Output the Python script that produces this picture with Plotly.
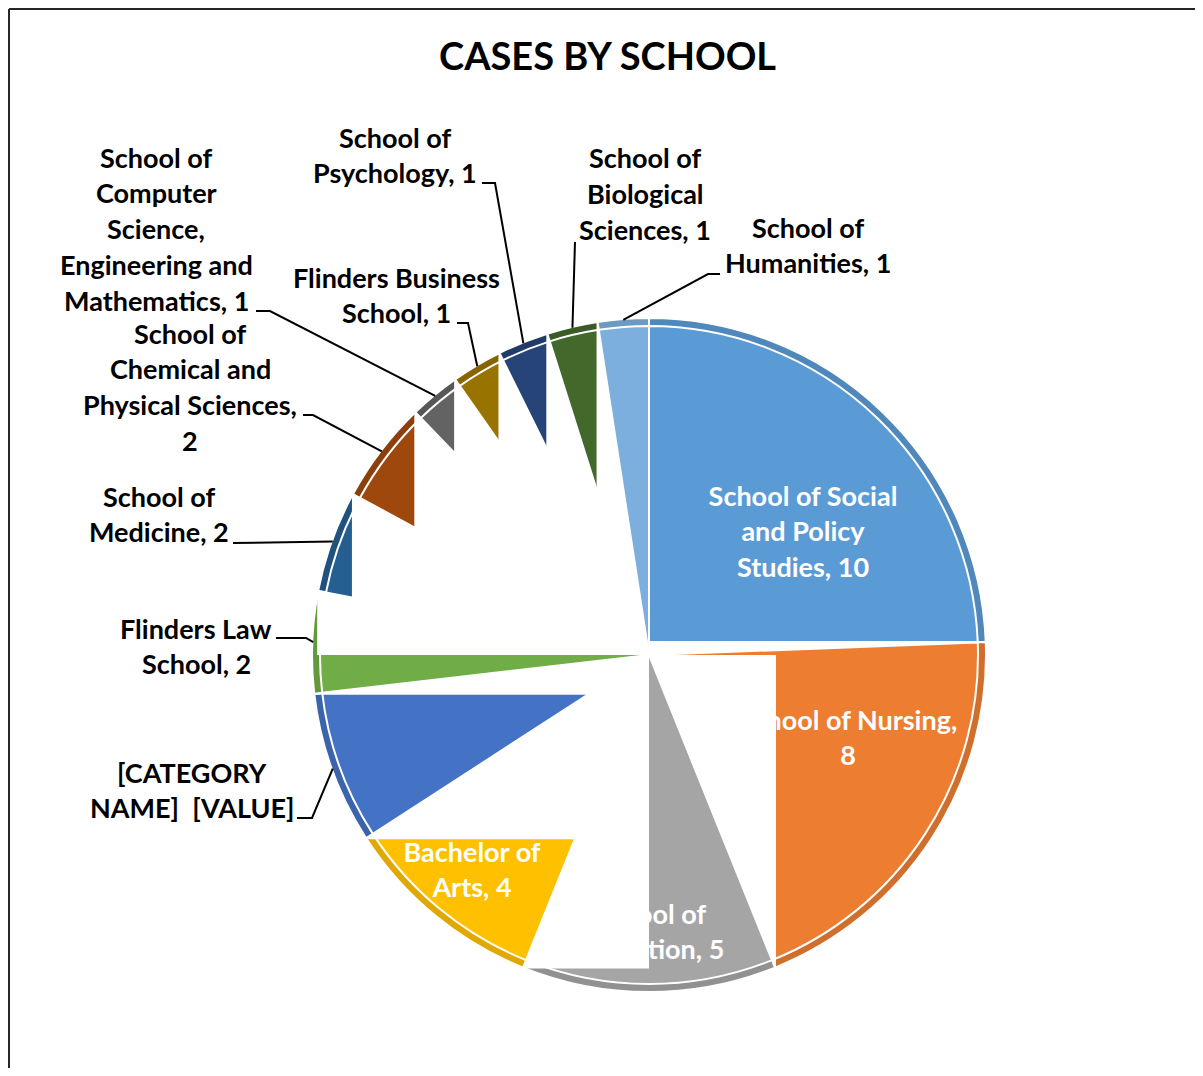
import math
import plotly.graph_objects as go

# ---------------- data ----------------
categories = [
    "School of Social and Policy Studies",
    "School of Nursing",
    "School of Education",
    "Bachelor of Arts",
    "[CATEGORY NAME]",
    "Flinders Law School",
    "School of Medicine",
    "School of Chemical and Physical Sciences",
    "School of Computer Science, Engineering and Mathematics",
    "Flinders Business School",
    "School of Psychology",
    "School of Biological Sciences",
    "School of Humanities",
]
values = [10, 8, 5, 4, 3, 2, 2, 2, 1, 1, 1, 1, 1]
colors = ["#5B9BD5", "#ED7D31", "#A5A5A5", "#FFC000", "#4472C4", "#70AD47", "#255E91",
          "#9E480E", "#636363", "#997300", "#264478", "#43682B", "#7CAFDD"]
title_text = "CASES BY SCHOOL"
placeholder_value = "[VALUE]"   # label of the placeholder slice shows the raw field codes

# ---------------- style / layout ----------------
W, H = 1187, 1060          # figure size (page has an 8px body margin)
OFF = 8
CX, CY, R = 649, 655, 337  # pie centre / radius in page pixels
FONT = "Lato"
FS = 27
LINE_H = 35.8
TY = -2                    # small vertical text nudge

def P(x):
    return (x - OFF) / W

def Q(y):
    return 1 - (y - OFF) / H

def darker(hex_color, f=0.88):
    h = hex_color.lstrip("#")
    r, g, b = (int(h[i:i + 2], 16) for i in (0, 2, 4))
    return "rgb(%d,%d,%d)" % (r * f, g * f, b * f)

# label wrapping (words per line), anchor of first line (page px)
wraps = [[3, 2, 2], [3, 1], [2, 2], [2, 2], [1, 2], [2, 2], [2, 2], [2, 2, 2, 1],
         [2, 1, 1, 2, 2], [2, 2], [2, 2], [2, 1, 2], [2, 2]]
anchors = [(803, 497), (848, 721), (650, 915), (472, 853), (192, 774), (196, 630),
           (159, 498), (190, 335), (156, 159), (396, 279), (395, 139), (645, 160), (808, 229)]
inside = [True, True, True, True] + [False] * 9
leaders = {
    4: [(297, 818), (312, 818)],
    5: [(276, 638), (306, 638)],
    6: [(233, 543)],
    7: [(303, 415), (313, 415)],
    8: [(256, 311), (270, 311)],
    9: [(457, 323), (468, 323)],
    10: [(482, 183), (495, 183)],
    11: [(575, 242)],
    12: [(720, 274), (708, 274)],
}

def label_lines(i):
    if categories[i] == "[CATEGORY NAME]":
        txt = categories[i] + "\u00a0 " + placeholder_value
    else:
        txt = "%s, %s" % (categories[i], values[i])
    words = txt.split(" ")
    out, k = [], 0
    for n in wraps[i]:
        out.append(" ".join(words[k:k + n]))
        k += n
    return out

total = sum(values)

def pt(theta, r):
    a = math.radians(theta)
    return (CX + r * math.sin(a), CY - r * math.cos(a))

# ---------------- pies ----------------
dom_x = [P(CX - R), P(CX + R)]
dom_y = [Q(CY + R), Q(CY - R)]
R2 = R - 8
dom_x2 = [P(CX - R2), P(CX + R2)]
dom_y2 = [Q(CY + R2), Q(CY - R2)]

fig = go.Figure()
fig.add_trace(go.Pie(labels=categories, values=values, sort=False, direction="clockwise",
                     rotation=0, textinfo="none", hoverinfo="label+value",
                     marker=dict(colors=[darker(c) for c in colors],
                                 line=dict(color="white", width=2)),
                     domain=dict(x=dom_x, y=dom_y), showlegend=False))
fig.add_trace(go.Pie(labels=categories, values=values, sort=False, direction="clockwise",
                     rotation=0, textinfo="none", hoverinfo="label+value",
                     marker=dict(colors=colors, line=dict(color="white", width=2)),
                     domain=dict(x=dom_x2, y=dom_y2), showlegend=False))

shapes = []
annotations = []

# inside labels as shape labels (so the white masks can cover them)
for i in range(len(values)):
    if not inside[i]:
        continue
    cx, cy = anchors[i]
    for j, line in enumerate(label_lines(i)):
        y = cy + j * LINE_H + TY
        shapes.append(dict(type="rect", xref="paper", yref="paper",
                           x0=P(cx - 1), x1=P(cx + 1), y0=Q(y + 1), y1=Q(y - 1),
                           line=dict(width=0), fillcolor="rgba(0,0,0,0)",
                           label=dict(text=line, textposition="middle center",
                                      font=dict(family=FONT, size=FS, color="white",
                                                weight="bold"))))

# white masks (rendering artefact of the original chart)
def clip(poly, axis, thr, sign):
    out = []
    n = len(poly)
    for j in range(n):
        A = poly[j]
        B = poly[(j + 1) % n]
        ain = sign * (A[axis] - thr) >= 0
        bin_ = sign * (B[axis] - thr) >= 0
        if ain:
            out.append(A)
        if ain != bin_:
            t = (thr - A[axis]) / (B[axis] - A[axis])
            out.append((A[0] + t * (B[0] - A[0]), A[1] + t * (B[1] - A[1])))
    return out

cum = 0
INSET = 1.0
for i, v in enumerate(values):
    a0 = cum / total * 360
    a1 = (cum + v) / total * 360
    cum += v
    k = int(math.floor((a1 - 1e-9) / 90))
    ps = max(a0, 90 * k)
    n = max(6, int((a1 - ps) * 2))
    poly = [(CX, CY)] + [pt(ps + (a1 - ps) * j / n, R + 3) for j in range(n + 1)]
    E = pt(a1, R)
    q = k % 4
    if q == 0:
        poly = clip(poly, 1, E[1] - INSET, 1)
    elif q == 1:
        poly = clip(poly, 0, E[0] + INSET, -1)
    elif q == 2:
        poly = clip(poly, 1, E[1] + INSET, -1)
    else:
        poly = clip(poly, 0, E[0] - INSET, 1)
    if len(poly) < 3:
        continue
    path = "M " + " L ".join("%.5f,%.5f" % (P(x), Q(y)) for x, y in poly) + " Z"
    shapes.append(dict(type="path", xref="paper", yref="paper", path=path,
                       fillcolor="white", line=dict(width=0), layer="above"))

# leader lines
cum = 0
mids = []
for v in values:
    mids.append((cum + v / 2) / total * 360)
    cum += v
for i, pts in leaders.items():
    end = pt(mids[i], R - 1)
    allp = pts + [end]
    path = "M " + " L ".join("%.5f,%.5f" % (P(x), Q(y)) for x, y in allp)
    shapes.append(dict(type="path", xref="paper", yref="paper", path=path,
                       line=dict(color="black", width=2)))

# outer labels
for i in range(len(values)):
    if inside[i]:
        continue
    cx, cy = anchors[i]
    for j, line in enumerate(label_lines(i)):
        annotations.append(dict(x=P(cx), y=Q(cy + j * LINE_H + TY), xref="paper", yref="paper",
                                text=line, showarrow=False, xanchor="center", yanchor="middle",
                                font=dict(family=FONT, size=FS, color="black", weight="bold")))

# title
annotations.append(dict(x=P(608), y=Q(57 + TY), xref="paper", yref="paper", text=title_text,
                        showarrow=False, xanchor="center", yanchor="middle",
                        font=dict(family=FONT, size=38, color="black", weight="bold")))

# chart frame (top and left edges visible)
shapes.append(dict(type="line", xref="paper", yref="paper", x0=P(9), x1=1.02, y0=Q(9), y1=Q(9),
                   line=dict(color="#262626", width=2)))
shapes.append(dict(type="line", xref="paper", yref="paper", x0=P(9), x1=P(9), y0=Q(9), y1=-0.02,
                   line=dict(color="#262626", width=2)))

fig.update_layout(width=W, height=H, margin=dict(l=0, r=0, t=0, b=0),
                  paper_bgcolor="white", plot_bgcolor="white",
                  shapes=shapes, annotations=annotations, showlegend=False)
fig.write_html("out.html")
